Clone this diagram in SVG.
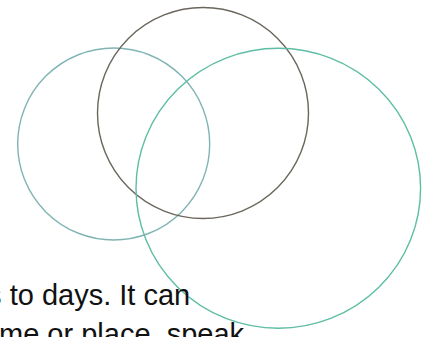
<svg xmlns="http://www.w3.org/2000/svg" width="425" height="337" viewBox="0 0 425 337">
<style>
.c{fill:none;stroke-width:1.4}
.t{font-family:"Liberation Sans",Arial,sans-serif;font-size:29px;fill:#111}
</style>
<rect width="425" height="337" fill="#fff"/>
<g id="circle-left"><circle class="c" cx="113.7" cy="144" r="96" stroke="#80b4b4"/></g>
<g id="circle-top"><circle class="c" cx="203" cy="113" r="105.5" stroke="#6a665c"/></g>
<g id="circle-right"><ellipse class="c" cx="278.3" cy="188.3" rx="142.3" ry="140" stroke="#5dbda5"/></g>
<g id="text">
<text class="t" x="-12.9" y="305">s to days. It can</text>
<text class="t" x="-1" y="344">me or place, speak</text>
</g>
</svg>
